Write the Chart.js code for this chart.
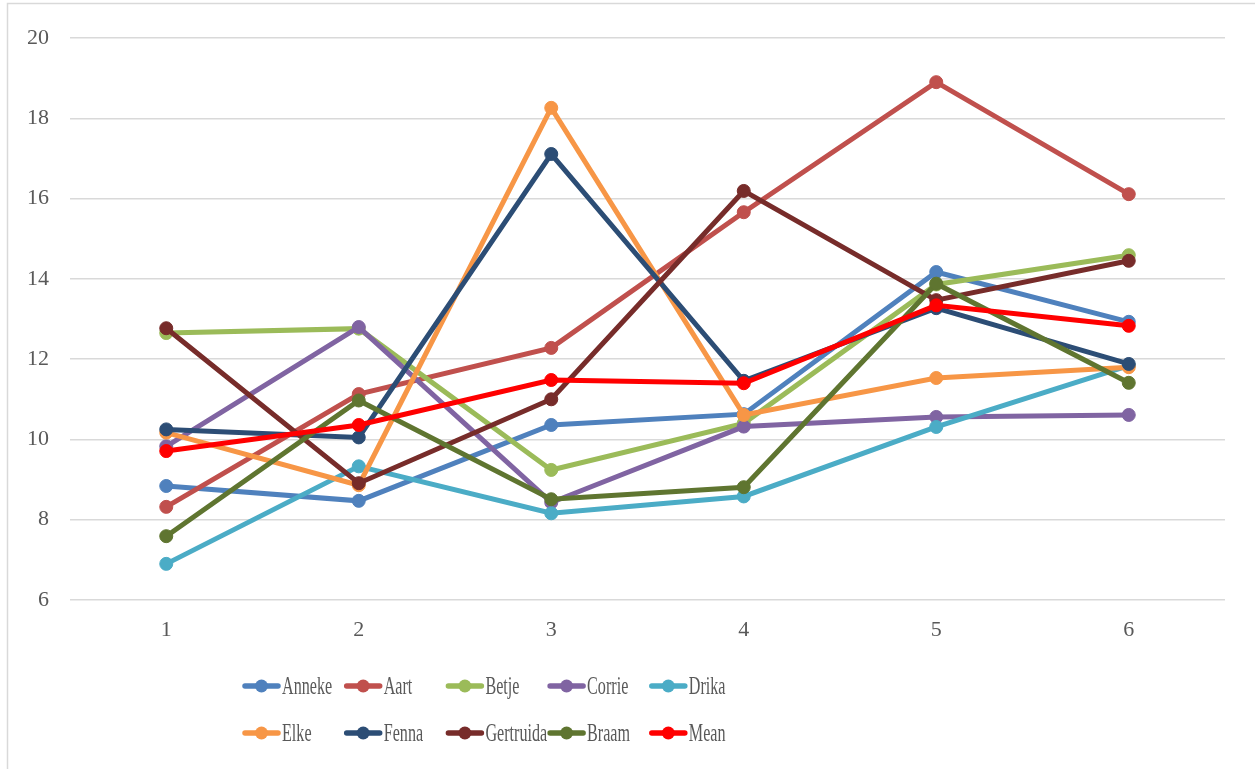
<!DOCTYPE html>
<html>
<head>
<meta charset="utf-8">
<script src="https://cdn.jsdelivr.net/npm/chart.js@4/dist/chart.umd.min.js"></script>
<style>
  html, body { margin: 0; padding: 0; background: #fff; }
  #wrap { width: 1255px; height: 769px; position: relative; }
</style>
</head>
<body>
<div id="wrap"><canvas id="chart"></canvas></div>
<script>
// values
const labels = ['1', '2', '3', '4', '5', '6'];
const seriesNames = ['Anneke', 'Aart', 'Betje', 'Corrie', 'Drika', 'Elke', 'Fenna', 'Gertruida', 'Braam', 'Mean'];
const anneke = [8.84, 8.47, 10.36, 10.63, 14.17, 12.93];
const aart = [8.32, 11.13, 12.28, 15.66, 18.90, 16.11];
const betje = [12.65, 12.76, 9.24, 10.40, 13.86, 14.59];
const corrie = [9.83, 12.80, 8.43, 10.32, 10.56, 10.61];
const drika = [6.90, 9.33, 8.16, 8.58, 10.31, 11.84];
const elke = [10.17, 8.86, 18.26, 10.61, 11.53, 11.80];
const fenna = [10.25, 10.05, 17.11, 11.46, 13.27, 11.88];
const gertruida = [12.77, 8.91, 11.00, 16.19, 13.47, 14.45];
const braam = [7.59, 10.97, 8.51, 8.81, 13.88, 11.41];
const mean = [9.71, 10.36, 11.48, 11.40, 13.34, 12.83];
const yTicks = [6, 8, 10, 12, 14, 16, 18, 20];

const seriesValues = [anneke, aart, betje, corrie, drika, elke, fenna, gertruida, braam, mean];
const colors = ['#4F81BD', '#C0504D', '#9BBB59', '#8064A2', '#4BACC6', '#F79646', '#2C4D75', '#772C2A', '#5F7530', '#FF0000'];

const textColor = '#595959';
const gridColor = '#D9D9D9';

const datasets = seriesNames.map((name, i) => ({
  label: name,
  data: seriesValues[i],
  borderColor: colors[i],
  backgroundColor: colors[i],
  pointBackgroundColor: colors[i],
  pointBorderColor: colors[i],
  borderWidth: 5,
  pointRadius: 6.5,
  pointBorderWidth: 1,
  tension: 0,
  order: seriesNames.length - i // later series on top
}));

// white background + the thin frame around the chart
const frame = {
  id: 'frame',
  beforeDraw(chart) {
    const ctx = chart.ctx;
    ctx.save();
    ctx.fillStyle = '#fff';
    ctx.fillRect(0, 0, chart.width, chart.height);
    ctx.strokeStyle = gridColor;
    ctx.lineWidth = 1.5;
    ctx.beginPath();
    ctx.moveTo(7.5, chart.height);
    ctx.lineTo(7.5, 3.5);
    ctx.lineTo(chart.width, 3.5);
    ctx.stroke();
    ctx.restore();
  }
};

// legend drawn in fixed columns, two rows
const gridLegend = {
  id: 'gridLegend',
  afterDraw(chart) {
    const ctx = chart.ctx;
    const left = 243, colW = 101.7, rows = [686, 733];
    ctx.save();
    chart.data.datasets.forEach((ds, i) => {
      const col = i % 5, row = Math.floor(i / 5);
      const x = left + col * colW, y = rows[row];
      ctx.strokeStyle = ds.borderColor;
      ctx.lineWidth = 5.5;
      ctx.lineCap = 'round';
      ctx.beginPath();
      ctx.moveTo(x + 2, y);
      ctx.lineTo(x + 35, y);
      ctx.stroke();
      ctx.fillStyle = ds.borderColor;
      ctx.beginPath();
      ctx.arc(x + 18.5, y, 6.5, 0, Math.PI * 2);
      ctx.fill();
      // text is narrow in the original
      ctx.save();
      ctx.translate(x + 39, y + 1);
      ctx.scale(0.62, 1);
      ctx.fillStyle = textColor;
      ctx.font = '26px "Liberation Serif", "Times New Roman", serif';
      ctx.textBaseline = 'middle';
      ctx.fillText(ds.label, 0, 0);
      ctx.restore();
    });
    ctx.restore();
  }
};

new Chart(document.getElementById('chart'), {
  type: 'line',
  data: { labels: labels, datasets: datasets },
  options: {
    responsive: true,
    maintainAspectRatio: false,
    animation: false,
    layout: { padding: { left: 8, right: 30, top: 38, bottom: 119 } },
    plugins: {
      legend: { display: false },
      tooltip: { enabled: false }
    },
    scales: {
      x: {
        offset: true,
        grid: { display: false, drawTicks: false },
        border: { display: false },
        ticks: {
          color: textColor,
          padding: 17,
          font: { family: '"Liberation Serif", "Times New Roman", serif', size: 22 }
        },
        afterFit(scale) { scale.height = 50; }
      },
      y: {
        min: 6,
        max: 20,
        afterBuildTicks(scale) { scale.ticks = yTicks.map(v => ({ value: v })); },
        grid: { color: gridColor, lineWidth: 1.5, drawTicks: false },
        border: { display: false },
        ticks: {
          color: textColor,
          padding: 21,
          font: { family: '"Liberation Serif", "Times New Roman", serif', size: 22 }
        },
        afterFit(scale) { scale.width = 62; }
      }
    }
  },
  plugins: [frame, gridLegend]
});
</script>
</body>
</html>
